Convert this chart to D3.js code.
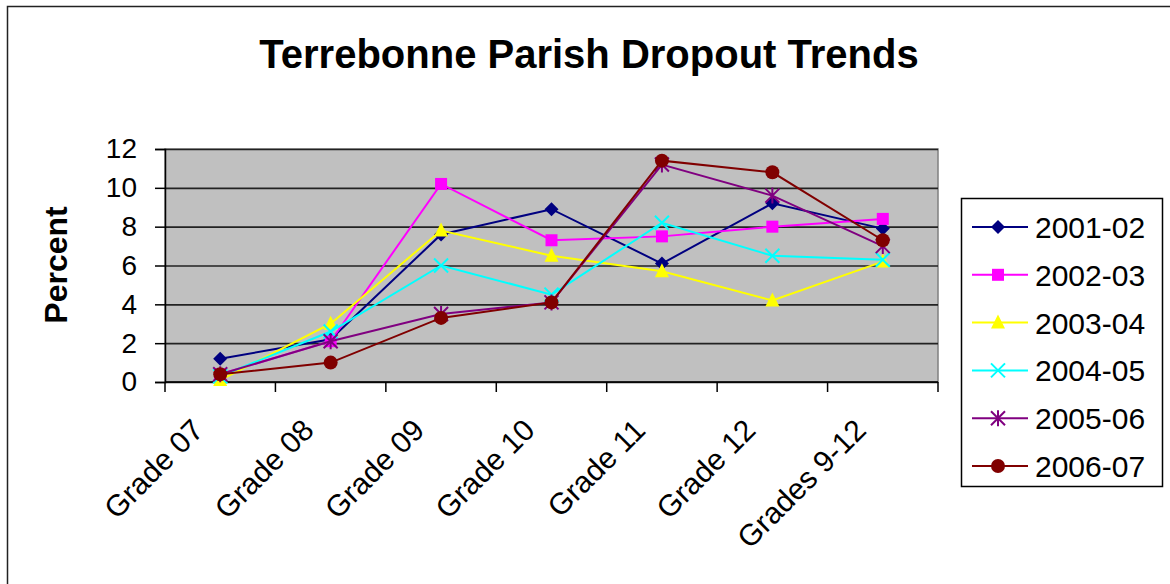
<!DOCTYPE html>
<html>
<head>
<meta charset="utf-8">
<script src="https://cdn.jsdelivr.net/npm/d3@7"></script>
<style>
  body { margin: 0; background: #fff; }
  text { font-family: "Liberation Sans", Arial, sans-serif; }
</style>
</head>
<body>
<div id="chart"></div>
<script>
// Chart data
var categories = ["Grade 07", "Grade 08", "Grade 09", "Grade 10", "Grade 11", "Grade 12", "Grades 9-12"];
var seriesNames = ["2001-02", "2002-03", "2003-04", "2004-05", "2005-06", "2006-07"];
var v2001 = [1.2, 2.2, 7.6, 8.9, 6.1, 9.2, 7.9];
var v2002 = [0.4, 2.1, 10.2, 7.3, 7.5, 8.0, 8.4];
var v2003 = [0.1, 3.0, 7.8, 6.5, 5.7, 4.2, 6.2];
var v2004 = [0.3, 2.6, 6.0, 4.5, 8.2, 6.5, 6.3];
var v2005 = [0.4, 2.1, 3.5, 4.1, 11.2, 9.6, 7.0];
var v2006 = [0.4, 1.0, 3.3, 4.1, 11.4, 10.8, 7.3];
var yTicks = [0, 2, 4, 6, 8, 10, 12];

var seriesValues = [v2001, v2002, v2003, v2004, v2005, v2006];
var colors = ["#000080", "#FF00FF", "#FFFF00", "#00FFFF", "#800080", "#800000"];
var markers = ["diamond", "square", "triangle", "x", "star", "circle"];

var svgWidth = 1170;
var svgHeight = 584;

// plot area
var plot = { left: 165, right: 938, top: 149, bottom: 382 };

var svg = d3.select("#chart")
  .append("svg")
  .attr("width", svgWidth)
  .attr("height", svgHeight);

// outer chart border
svg.append("rect")
  .attr("x", 7.5)
  .attr("y", 6.5)
  .attr("width", 1200)
  .attr("height", 700)
  .attr("fill", "#fff")
  .attr("stroke", "#222")
  .attr("stroke-width", 1.5);

// title
svg.append("text")
  .attr("x", 589)
  .attr("y", 68)
  .attr("text-anchor", "middle")
  .attr("font-size", "40px")
  .attr("font-weight", "bold")
  .text("Terrebonne Parish Dropout Trends");

var x = d3.scaleBand()
  .domain(categories)
  .range([plot.left, plot.right])
  .padding(0);

var y = d3.scaleLinear()
  .domain([0, 12])
  .range([plot.bottom, plot.top]);

var cx = function(c) { return x(c) + x.bandwidth() / 2; };

// gray plot background
svg.append("rect")
  .attr("x", plot.left)
  .attr("y", plot.top)
  .attr("width", plot.right - plot.left)
  .attr("height", plot.bottom - plot.top)
  .attr("fill", "#C0C0C0")
  .attr("stroke", "#808080")
  .attr("stroke-width", 1.5);

// gridlines
svg.append("g")
  .attr("transform", `translate(${plot.left}, 0)`)
  .call(d3.axisLeft(y).tickValues(yTicks).tickSize(-(plot.right - plot.left)).tickFormat(""))
  .call(g => g.select(".domain").remove())
  .call(g => g.selectAll("line").attr("stroke", "#222").attr("stroke-width", 1.6));

// y axis
svg.append("g")
  .attr("transform", `translate(${plot.left}, 0)`)
  .call(d3.axisLeft(y).tickValues(yTicks).tickSize(10).tickPadding(18))
  .call(g => g.select(".domain").attr("stroke", "#000").attr("stroke-width", 1.5))
  .call(g => g.selectAll("line").attr("stroke", "#000").attr("stroke-width", 1.5))
  .call(g => g.selectAll("text")
    .attr("font-family", "Liberation Sans, Arial, sans-serif")
    .attr("font-size", "28px")
    .attr("fill", "#000"));

// x axis: ticks between categories
var xTickPos = categories.map(c => x(c)).concat([plot.right]);
svg.append("line")
  .attr("x1", plot.left).attr("x2", plot.right)
  .attr("y1", plot.bottom).attr("y2", plot.bottom)
  .attr("stroke", "#000").attr("stroke-width", 1.5);
svg.append("g").selectAll("line")
  .data(xTickPos)
  .enter()
  .append("line")
  .attr("x1", d => d).attr("x2", d => d)
  .attr("y1", plot.bottom).attr("y2", plot.bottom + 10)
  .attr("stroke", "#000").attr("stroke-width", 1.5);

// x labels, rotated
svg.append("g").selectAll("text")
  .data(categories)
  .enter()
  .append("text")
  .attr("transform", d => `translate(${cx(d) - 15}, 432) rotate(-45)`)
  .attr("text-anchor", "end")
  .attr("font-size", "30px")
  .text(d => d);

// y axis title
svg.append("text")
  .attr("transform", "translate(67, 265) rotate(-90)")
  .attr("text-anchor", "middle")
  .attr("font-size", "32px")
  .attr("font-weight", "bold")
  .text("Percent");

// marker drawing
function drawMarker(g, type, color) {
  var s = 7;
  if (type === "diamond") {
    g.append("path").attr("d", `M0,${-s}L${s},0L0,${s}L${-s},0Z`).attr("fill", color);
  } else if (type === "square") {
    g.append("rect").attr("x", -6).attr("y", -6).attr("width", 12).attr("height", 12).attr("fill", color);
  } else if (type === "triangle") {
    g.append("path").attr("d", `M0,${-s - 1}L${s},${s - 1}L${-s},${s - 1}Z`).attr("fill", color);
  } else if (type === "x") {
    g.append("path").attr("d", `M${-s},${-s}L${s},${s}M${-s},${s}L${s},${-s}`)
      .attr("stroke", color).attr("stroke-width", 2).attr("fill", "none");
  } else if (type === "star") {
    g.append("path").attr("d", `M${-s},${-s}L${s},${s}M${-s},${s}L${s},${-s}M0,${-s - 1}L0,${s + 1}`)
      .attr("stroke", color).attr("stroke-width", 2).attr("fill", "none");
  } else {
    g.append("circle").attr("r", 7).attr("fill", color);
  }
}

var line = d3.line()
  .x((d, i) => cx(categories[i]))
  .y(d => y(d));

seriesValues.forEach(function(vals, si) {
  var sg = svg.append("g");
  sg.append("path")
    .datum(vals)
    .attr("d", line)
    .attr("fill", "none")
    .attr("stroke", colors[si])
    .attr("stroke-width", 2);
  sg.selectAll("g.pt")
    .data(vals)
    .enter()
    .append("g")
    .attr("transform", (d, i) => `translate(${cx(categories[i])}, ${y(d)})`)
    .each(function() { drawMarker(d3.select(this), markers[si], colors[si]); });
});

// legend
var legend = svg.append("g");
legend.append("rect")
  .attr("x", 961.5).attr("y", 198.5)
  .attr("width", 201).attr("height", 288)
  .attr("fill", "#fff")
  .attr("stroke", "#000")
  .attr("stroke-width", 1.5);

var legendY = d3.scalePoint()
  .domain(seriesNames)
  .range([227, 466]);

seriesNames.forEach(function(name, i) {
  var ly = legendY(name);
  legend.append("line")
    .attr("x1", 972).attr("x2", 1028)
    .attr("y1", ly).attr("y2", ly)
    .attr("stroke", colors[i]).attr("stroke-width", 2);
  var mg = legend.append("g").attr("transform", `translate(998, ${ly})`);
  drawMarker(mg, markers[i], colors[i]);
  legend.append("text")
    .attr("x", 1035)
    .attr("y", ly + 11)
    .attr("font-size", "30px")
    .text(name);
});
</script>
</body>
</html>
